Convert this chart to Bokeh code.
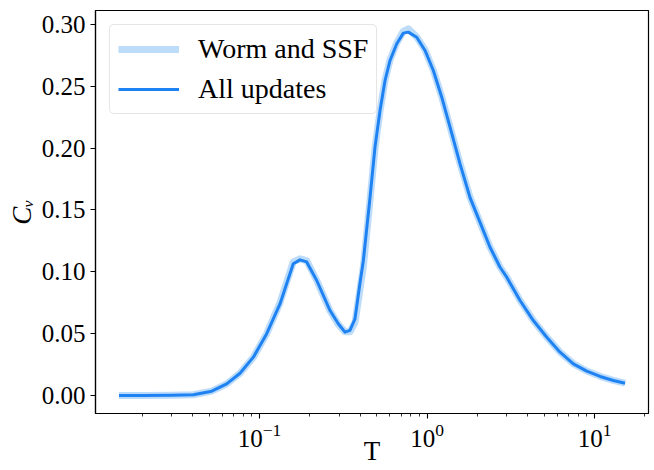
from bokeh.plotting import figure
from bokeh.models import (Range1d, Legend, LegendItem,
                          SingleIntervalTicker, PrintfTickFormatter)
from bokeh.embed import file_html
from bokeh.resources import INLINE

# ---- data ----
T = [0.0145, 0.02, 0.03, 0.0403, 0.0519, 0.0637, 0.0765, 0.0919, 0.1104, 0.1325,
     0.159, 0.1745, 0.1913, 0.2196, 0.2636, 0.2953, 0.3237, 0.3467, 0.3715, 0.398,
     0.4167, 0.4567, 0.4893, 0.5241, 0.5615, 0.6015, 0.6595, 0.7219, 0.7731, 0.868,
     0.9729, 1.0904, 1.2242, 1.3721, 1.574, 1.806, 2.072, 2.377, 2.728, 2.991,
     3.591, 4.311, 5.184, 6.223, 7.470, 8.982, 10.79, 12.95, 15.21]

cv_worm_ssf = [0.0, 0.0, 0.0002, 0.0006, 0.0035, 0.0094, 0.018, 0.031, 0.050, 0.075,
               0.108, 0.1105, 0.109, 0.093, 0.0685, 0.0575, 0.0515, 0.0515, 0.059, 0.086,
               0.104, 0.158, 0.200, 0.230, 0.255, 0.2715, 0.285, 0.2945, 0.2965, 0.290,
               0.2795, 0.263, 0.2415, 0.2172, 0.1875, 0.1602, 0.140, 0.120, 0.1038, 0.0958,
               0.0769, 0.0607, 0.0472, 0.0351, 0.0257, 0.0198, 0.0155, 0.0122, 0.0100]

cv_all = [0.0, 0.0, 0.0002, 0.0006, 0.0035, 0.0094, 0.018, 0.031, 0.050, 0.074,
          0.1065, 0.1097, 0.108, 0.093, 0.0687, 0.058, 0.0512, 0.0526, 0.062, 0.091,
          0.109, 0.160, 0.201, 0.2305, 0.2547, 0.2709, 0.2844, 0.293, 0.2938, 0.2897,
          0.279, 0.2628, 0.2412, 0.217, 0.1873, 0.160, 0.140, 0.1199, 0.1037, 0.0957,
          0.0768, 0.0606, 0.0471, 0.035, 0.0256, 0.0197, 0.0154, 0.0121, 0.0099]

series_labels = ["Worm and SSF", "All updates"]
x_label = "T"
y_label = "C\u1D65"

X_MIN, X_MAX = 10 ** -1.979, 10 ** 1.322
Y_MIN, Y_MAX = -0.01455, 0.3113
FONT = "Liberation Serif"

p = figure(width=654, height=470, x_axis_type="log",
           output_backend="svg", toolbar_location=None,
           x_range=Range1d(X_MIN, X_MAX), y_range=Range1d(Y_MIN, Y_MAX),
           min_border_left=95, min_border_right=6,
           min_border_top=10, min_border_bottom=57)

p.xgrid.grid_line_color = None
p.ygrid.grid_line_color = None
p.outline_line_color = "black"
p.outline_line_width = 1.2
p.background_fill_color = "white"
p.border_fill_color = "white"

for ax in (p.xaxis[0], p.yaxis[0]):
    ax.axis_line_color = "black"
    ax.axis_line_width = 1.2
    ax.major_tick_line_color = "black"
    ax.major_tick_line_width = 1.1
    ax.major_tick_out = 5
    ax.major_tick_in = 0
    ax.minor_tick_line_color = "black"
    ax.minor_tick_line_width = 0.8
    ax.minor_tick_out = 3
    ax.minor_tick_in = 0
    ax.major_label_text_font = FONT
    ax.major_label_text_font_size = "25px"
    ax.major_label_text_color = "black"
    ax.major_label_standoff = 5
    ax.axis_label_text_font = FONT
    ax.axis_label_text_font_size = "27px"
    ax.axis_label_text_color = "black"

p.xaxis[0].axis_label = x_label
p.xaxis[0].axis_label_text_font_style = "normal"
p.xaxis[0].axis_label_standoff = -14

p.yaxis[0].axis_label = y_label
p.yaxis[0].axis_label_text_font_style = "italic"
p.yaxis[0].axis_label_standoff = 2
p.yaxis[0].ticker = SingleIntervalTicker(interval=0.05, num_minor_ticks=0)
p.yaxis[0].formatter = PrintfTickFormatter(format="%.2f")
p.yaxis[0].minor_tick_line_color = None

r1 = p.line(T, cv_worm_ssf, line_width=7, line_color="#bddcfa",
            line_join="round", line_cap="butt")
r2 = p.line(T, cv_all, line_width=3, line_color="#1e82f2",
            line_join="round", line_cap="butt")

legend = Legend(items=[LegendItem(label=series_labels[0], renderers=[r1]),
                       LegendItem(label=series_labels[1], renderers=[r2])],
                location="top_left", margin=14,
                glyph_width=61, glyph_height=30, label_height=30,
                label_standoff=19, spacing=8, padding=8,
                label_text_font=FONT, label_text_font_size="28px",
                label_text_color="black",
                border_line_color="#cccccc", border_line_width=1,
                border_radius=5,
                background_fill_color="white", background_fill_alpha=0.85)
p.add_layout(legend)

open("out.html", "w").write(file_html(p, INLINE))
